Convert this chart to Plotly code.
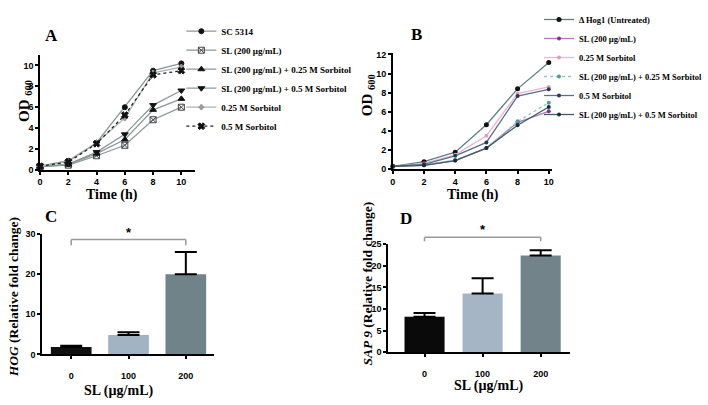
import plotly.graph_objects as go

# ---------------- data ----------------
time_h = [0, 2, 4, 6, 8, 10]

a_names = ["SC 5314", "SL (200 µg/mL)", "SL (200 µg/mL) + 0.25 M Sorbitol",
           "SL (200 µg/mL) + 0.5 M Sorbitol", "0.25 M Sorbitol", "0.5 M Sorbitol"]
a_sc5314 = [0.35, 0.87, 2.6, 6.0, 9.5, 10.2]
a_sl200 = [0.3, 0.45, 1.35, 2.35, 4.8, 6.0]
a_sl_025 = [0.3, 0.5, 1.55, 2.9, 5.75, 6.8]
a_sl_05 = [0.3, 0.55, 1.7, 3.4, 6.2, 7.6]
a_sorb025 = [0.35, 0.8, 2.6, 4.95, 9.3, 9.85]
a_sorb05 = [0.35, 0.75, 2.5, 5.25, 9.1, 9.5]

b_names = ["Δ Hog1 (Untreated)", "SL (200 µg/mL)", "0.25 M Sorbitol",
           "SL (200 µg/mL) + 0.25 M Sorbitol", "0.5 M Sorbitol",
           "SL (200 µg/mL) + 0.5 M Sorbitol"]
b_hog1 = [0.3, 0.78, 1.77, 4.65, 8.4, 11.15]
b_sl200 = [0.3, 0.4, 0.9, 2.2, 4.9, 6.05]
b_sorb025 = [0.3, 0.6, 1.5, 3.5, 7.9, 8.6]
b_sl_025 = [0.3, 0.45, 0.95, 2.2, 5.0, 6.95]
b_sorb05 = [0.3, 0.5, 1.4, 2.8, 7.65, 8.35]
b_sl_05 = [0.3, 0.4, 0.9, 2.2, 4.6, 6.5]

doses = ["0", "100", "200"]
c_hog = [1.85, 4.85, 19.9]
c_hog_err = [0.33, 0.65, 5.5]
d_sap9 = [8.2, 13.6, 22.4]
d_sap9_err = [0.9, 3.5, 1.2]

c_sig_level = 28.5
d_sig_level = 26.6

# ---------------- figure ----------------
W, H = 708, 405
SERIF = "Liberation Serif"
SANS = "Liberation Sans"


def px(x):
    return x / W


def py(y):
    return 1 - y / H


fig = go.Figure()

# Panel A
a_series = [a_sc5314, a_sl200, a_sl_025, a_sl_05, a_sorb025, a_sorb05]
a_style = [
    dict(symbol="circle", size=5, mcolor="#111111", lcolor="#8a9999", dash="solid"),
    dict(symbol="square-x-open", size=6, mcolor="#444444", lcolor="#8a9999", dash="solid"),
    dict(symbol="triangle-up", size=6, mcolor="#111111", lcolor="#8a9999", dash="solid"),
    dict(symbol="triangle-down", size=6, mcolor="#111111", lcolor="#8a9999", dash="solid"),
    dict(symbol="cross", size=4, mcolor="#999999", lcolor="#a8b4b4", dash="solid"),
    dict(symbol="x", size=6, mcolor="#111111", lcolor="#222222", dash="dot"),
]
for name, vals, st in zip(a_names, a_series, a_style):
    fig.add_trace(go.Scatter(
        x=time_h, y=vals, name=name, mode="lines+markers",
        line=dict(color=st["lcolor"], width=1.3, dash=st["dash"]),
        marker=dict(symbol=st["symbol"], size=st["size"], color=st["mcolor"],
                    line=dict(color=st["mcolor"], width=1)),
        xaxis="x", yaxis="y", legend="legend", cliponaxis=False))

# Panel B
b_series = [b_hog1, b_sl200, b_sorb025, b_sl_025, b_sorb05, b_sl_05]
b_style = [
    dict(lcolor="#5e7e80", mcolor="#111111", dash="solid", size=5),
    dict(lcolor="#b07ab8", mcolor="#8a2c8c", dash="solid", size=4),
    dict(lcolor="#eab4d4", mcolor="#e49ac4", dash="solid", size=4),
    dict(lcolor="#8ccaca", mcolor="#4f9a9a", dash="dot", size=4),
    dict(lcolor="#5a6f8c", mcolor="#27365a", dash="solid", size=4),
    dict(lcolor="#3f5c68", mcolor="#1a2a36", dash="solid", size=4),
]
for name, vals, st in zip(b_names, b_series, b_style):
    fig.add_trace(go.Scatter(
        x=time_h, y=vals, name=name, mode="lines+markers",
        line=dict(color=st["lcolor"], width=1.3, dash=st["dash"]),
        marker=dict(symbol="circle", size=st["size"], color=st["mcolor"]),
        xaxis="x2", yaxis="y2", legend="legend2", cliponaxis=False))

# Panel C
fig.add_trace(go.Bar(
    x=doses, y=c_hog, width=0.71, showlegend=False,
    marker=dict(color=["#101010", "#a2b3c4", "#6f8389"], line=dict(width=0)),
    error_y=dict(type="data", array=c_hog_err, arrayminus=[0, 0, 0], symmetric=False,
                 color="black", thickness=2, width=11),
    xaxis="x3", yaxis="y3", cliponaxis=False))

# Panel D
fig.add_trace(go.Bar(
    x=doses, y=d_sap9, width=0.69, showlegend=False,
    marker=dict(color=["#0a0a0a", "#a5b5c5", "#72848a"], line=dict(width=0)),
    error_y=dict(type="data", array=d_sap9_err, arrayminus=[0, 0, 0], symmetric=False,
                 color="black", thickness=2, width=11),
    xaxis="x4", yaxis="y4", cliponaxis=False))

ax_common = dict(showline=True, linecolor="black", linewidth=1.5, ticks="outside",
                 ticklen=3, tickwidth=1.5, tickcolor="black", showgrid=False,
                 zeroline=False, fixedrange=True,
                 tickfont=dict(family=SANS, size=9, color="black", weight="bold"))

# domains
A_x = [px(38), px(38 + 11 * 14.5)]
A_y = [py(169), py(169 - 11 * 10.7)]
B_x = [px(400), px(400 + 10.2 * 16)]
B_y = [py(168.3), py(168.3 - 12.1 * 9.8)]
C_x = [px(40), px(217)]
C_y = [py(358.3), py(234.3)]
D_x = [px(395), px(581.5)]
D_y = [py(356), py(245.3)]

C_range = [0, 30]
D_range = [0, 25]

fig.update_layout(
    width=W, height=H, margin=dict(l=0, r=0, t=0, b=0),
    paper_bgcolor="white", plot_bgcolor="white",
    barmode="overlay",
    xaxis=dict(domain=A_x, range=[0, 11], dtick=2, tick0=0, anchor="y", **ax_common),
    yaxis=dict(domain=A_y, range=[0, 11], dtick=2, tick0=0, anchor="x", **ax_common),
    xaxis2=dict(domain=B_x, range=[0, 10.2], dtick=2, tick0=0, anchor="y2", **ax_common),
    yaxis2=dict(domain=B_y, range=[0, 12.1], dtick=2, tick0=0, anchor="x2", **ax_common),
    xaxis3=dict(domain=C_x, range=[-0.51, 2.5], type="category", anchor="y3",
                ticklabelstandoff=9, **ax_common),
    yaxis3=dict(domain=C_y, range=C_range, dtick=10, anchor="x3", **ax_common),
    xaxis4=dict(domain=D_x, range=[-0.63, 2.5], type="category", anchor="y4",
                ticklabelstandoff=9, **ax_common),
    yaxis4=dict(domain=D_y, range=D_range, dtick=5, anchor="x4", **ax_common),
    legend=dict(x=px(183), y=py(12), xanchor="left", yanchor="top",
                bgcolor="rgba(0,0,0,0)", tracegroupgap=0, itemwidth=30,
                font=dict(family=SERIF, size=9, color="black", weight="bold")),
    legend2=dict(x=px(550), y=1.0, xanchor="left", yanchor="top",
                 bgcolor="rgba(0,0,0,0)", tracegroupgap=0, itemwidth=30,
                 font=dict(family=SERIF, size=8.5, color="black", weight="bold")),
)


def val_to_paper(v, dom, rng):
    return dom[0] + (v - rng[0]) / (rng[1] - rng[0]) * (dom[1] - dom[0])


# significance brackets
def bracket(xref, level, drop, dom, rng):
    ytop = val_to_paper(level, dom, rng)
    ybot = val_to_paper(level - drop, dom, rng)
    line = dict(color="#999999", width=1.5)
    fig.add_shape(type="line", xref=xref, yref="paper", x0=0, x1=2, y0=ytop, y1=ytop, line=line)
    fig.add_shape(type="line", xref=xref, yref="paper", x0=0, x1=0, y0=ytop, y1=ybot, line=line)
    fig.add_shape(type="line", xref=xref, yref="paper", x0=2, x1=2, y0=ytop, y1=ybot, line=line)
    fig.add_annotation(xref=xref, yref="paper", x=1, y=ytop, text="<b>*</b>",
                       showarrow=False, yanchor="bottom", yshift=-2,
                       font=dict(family=SANS, size=13, color="black"))


bracket("x3", c_sig_level, 1.4, C_y, C_range)
bracket("x4", d_sig_level, 0.9, D_y, D_range)

# text labels
def label(x, y, text, size, angle=0):
    fig.add_annotation(xref="paper", yref="paper", x=px(x), y=py(y), text=text,
                       showarrow=False, textangle=angle, xanchor="center", yanchor="middle",
                       font=dict(family=SERIF, size=size, color="black", weight="bold"))


label(50, 31, "A", 17)
label(424, 30, "B", 17)
label(49, 217, "C", 17)
label(413, 219, "D", 17)
label(112, 195, "Time (h)", 14)
label(482, 195, "Time (h)", 14)
label(22, 98, "OD <sub>600</sub>", 15, -90)
label(374, 92, "OD <sub>600</sub>", 15, -90)
label(11, 300, "<i>HOG</i> (Relative fold change)", 13.5, -90)
label(374, 285, "<i>SAP 9</i> (Relative fold change)", 13.5, -90)
label(118, 396, "SL (µg/mL)", 14)
label(498, 391, "SL (µg/mL)", 14)

fig.write_html("out.html", config={"displayModeBar": False},
               post_script="document.body.style.margin='0';")
